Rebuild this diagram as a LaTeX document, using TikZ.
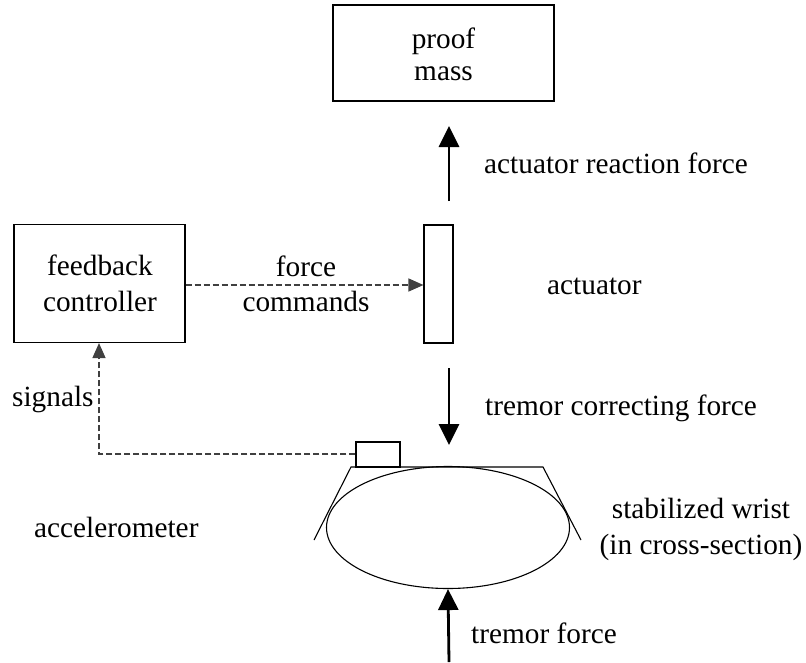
\documentclass[tikz,border=0pt]{standalone}
\usepackage{fontspec}
\setmainfont{Liberation Serif}
\usetikzlibrary{arrows.meta,shapes.geometric}
\tikzset{
  box/.style={draw, line width=1.1pt, inner sep=0pt},
  lbl/.style={anchor=base west, inner sep=0pt, font=\fontsize{29.3}{34}\selectfont},
  clbl/.style={anchor=base, inner sep=0pt, font=\fontsize{29.3}{34}\selectfont},
  force/.style={line width=2.8pt, -{Triangle[length=21pt,width=20pt]}},
  sig/.style={draw=black!75, line width=1.4pt, dash pattern=on 6pt off 3pt, -{Triangle[length=15pt,width=13pt]}},
}
\begin{document}
\begin{tikzpicture}[x=1pt,y=-1pt]
\useasboundingbox (0,0) rectangle (806,662);
% boxes
\node[box, minimum width=221pt, minimum height=96pt] (mass) at (443.5,53) {};
\node[box, minimum width=29pt, minimum height=118pt] (act) at (438.5,284) {};
\node[box, minimum width=171pt, minimum height=118pt] (ctrl) at (99.5,283.5) {};
\node[box, minimum width=44pt, minimum height=25pt] (acc) at (378,454.5) {};
\node[draw, ellipse, line width=1.1pt, minimum width=243pt, minimum height=122pt, inner sep=0pt] (wrist) at (448,527.5) {};
% trapezoid
\coordinate (tl) at (351,467);
\coordinate (tr) at (543,467);
\draw[line width=1.1pt] (314,540) -- (tl) -- (tr) -- (581,540);
% force arrows
\coordinate (rf0) at (449,201);
\coordinate (rf1) at (449,126);
\draw[force] (rf0) -- (rf1);
\coordinate (cf0) at (449,368);
\coordinate (cf1) at (449,445);
\draw[force] (cf0) -- (cf1);
\coordinate (tf0) at (449,662);
\draw[force] (tf0) -- (wrist.south);
% signal arrows
\draw[sig] (ctrl.east |- 0,285) -- (act.west |- 0,285);
\coordinate (corner) at (99,454);
\draw[sig] (acc.west |- corner) -- (corner) -- (ctrl.south -| corner);
% labels
\node[clbl] at (443.5,48) {proof};
\node[clbl] at (443.5,80) {mass};
\node[clbl] at (100,275) {feedback};
\node[clbl] at (100,311) {controller};
\node[clbl] at (306,276) {force};
\node[clbl] at (306,311) {commands};
\node[lbl] at (484,173) {actuator reaction force};
\node[lbl] at (547,294) {actuator};
\node[lbl] at (12,406) {signals};
\node[lbl] at (485,415) {tremor correcting force};
\node[lbl] at (34,537) {accelerometer};
\node[clbl] at (701,518) {stabilized wrist};
\node[clbl] at (701,554) {(in cross-section)};
\node[lbl] at (471,643) {tremor force};
\end{tikzpicture}
\end{document}
